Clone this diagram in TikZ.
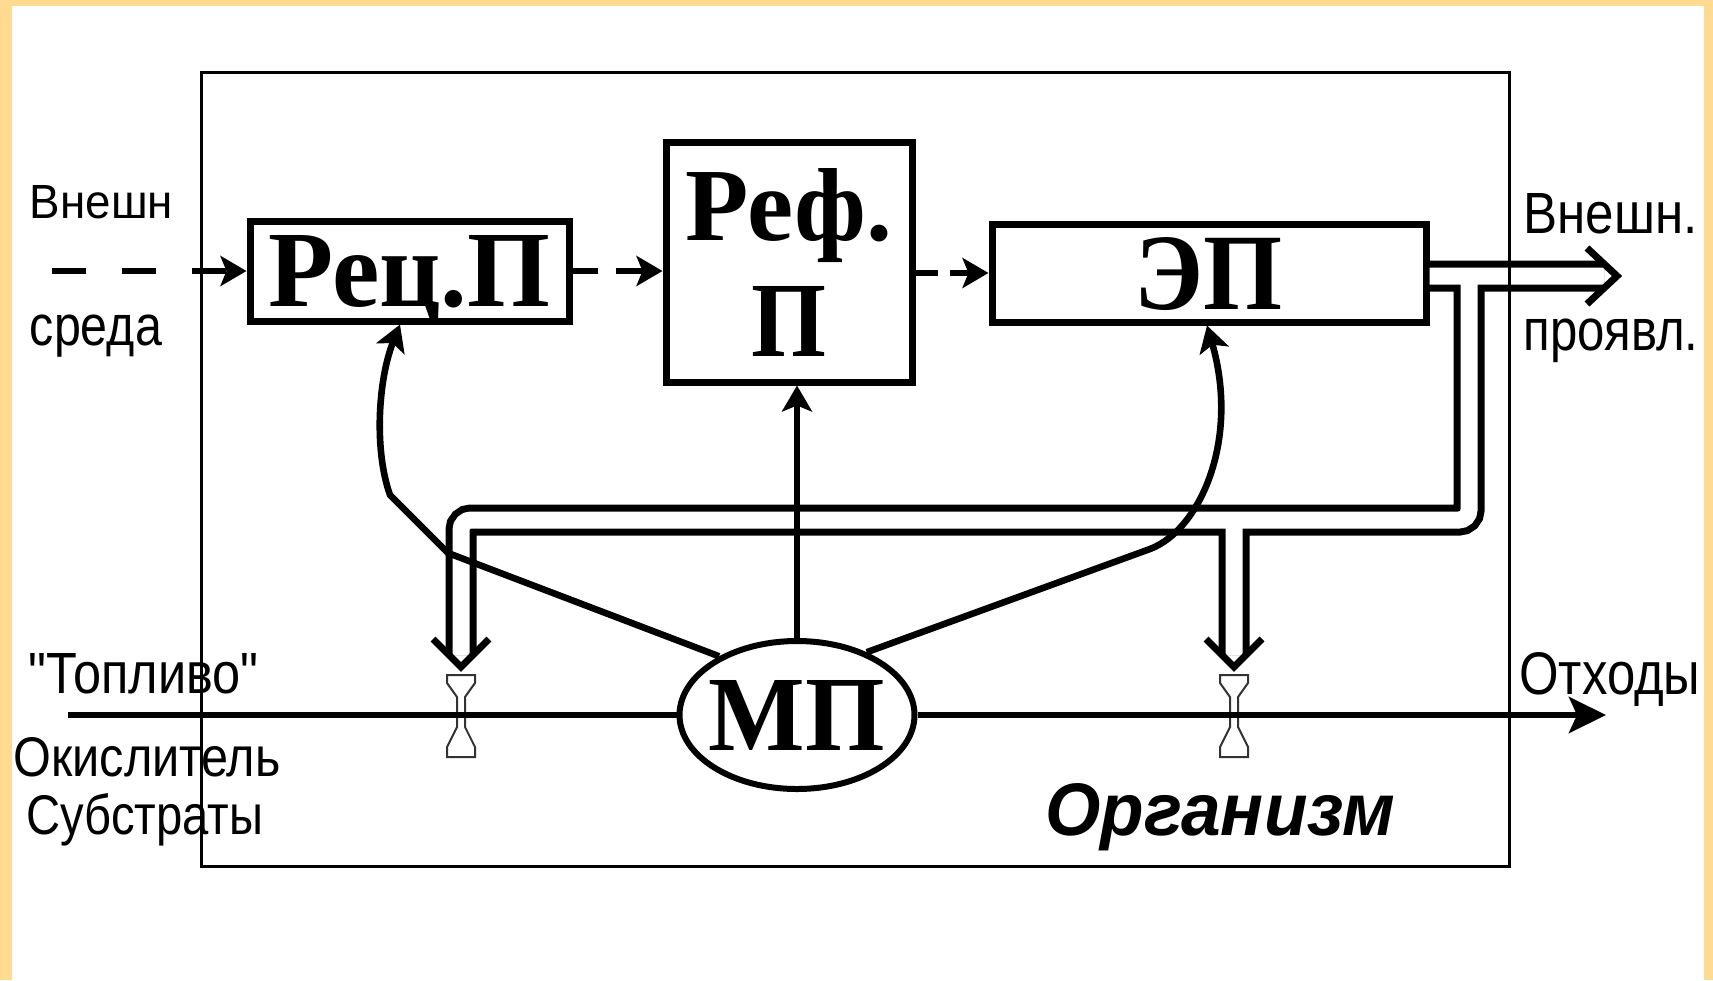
\documentclass[tikz,border=0pt]{standalone}
\usepackage{graphicx}
\usepackage{fontspec}
\setmainfont{Liberation Serif}
\setsansfont{Liberation Sans}
\usetikzlibrary{arrows.meta,shapes.geometric,calc}

\definecolor{rim}{RGB}{255,219,145}
% keep the height of a box, drop its depth
\newcommand{\nd}[1]{\raisebox{0pt}[\height][0pt]{#1}}

\begin{document}
\begin{tikzpicture}[x=0.5pt,y=-0.5pt,
  box/.style={draw, rectangle, line width=3.5pt, inner sep=0pt, font=\bfseries},
  lbl/.style={anchor=base west, inner sep=0pt, font=\sffamily},
  link/.style={line width=3.3pt, -{Stealth[length=13pt,width=15pt,inset=3pt]}},
  dlink/.style={link, line width=3pt},
  flow/.style={line width=3pt},
  pipeout/.style={line width=15.5pt, rounded corners=5pt},
  pipein/.style={white, line width=8.5pt, rounded corners=5pt},
  vhead/.style={line width=3.5pt, line join=miter},
  valve/.style={line width=1pt, black!80}]

% page: yellow rim and white sheet
\useasboundingbox (0,0) rectangle (1713,980);
\fill[rim] (0,0) rectangle (1713,980);
\fill[white] (12,6) rectangle (1704,980);

% blocks
\node[box, minimum width=159.5pt, minimum height=50pt] (rec) at (409.5,271)
  {\nd{\resizebox{141pt}{35.5pt}{Рец.П}}};
\node[box, minimum width=123pt, minimum height=120pt, align=center,
  font={\bfseries\fontsize{20pt}{58pt}\selectfont}] (ref) at (789,262)
  {\nd{\resizebox{103.5pt}{36pt}{Реф.}}\\\nd{\resizebox{37.5pt}{35pt}{П}}};
\node[box, minimum width=217pt, minimum height=49pt] (ep) at (1209,273)
  {\nd{\resizebox{74pt}{36pt}{ЭП}}};
\node[draw, ellipse, line width=3pt, inner sep=0pt, minimum width=117.5pt,
  minimum height=74pt, font=\bfseries] (mp) at (797,715)
  {\makebox[0pt]{\nd{\resizebox{88pt}{35pt}{МП}}}};

% side labels
\node[lbl] (envA) at (29.5,218.5) {\resizebox{71.5pt}{16.5pt}{Внешн}};
\node[lbl] (envB) at (29.5,345) {\resizebox{66pt}{15.3pt}{среда}};
\node[lbl] (outA) at (1523,233) {\resizebox{87pt}{20pt}{Внешн.}};
\node[lbl] (outB) at (1523,350) {\resizebox{87.5pt}{15.8pt}{проявл.}};
\node[lbl] (fuel) at (28,693) {\resizebox{115pt}{20pt}{\textquotedbl Топливо\textquotedbl}};
\node[lbl] (oxid) at (13,776) {\resizebox{133.5pt}{19.5pt}{Окислитель}};
\node[lbl] (subs) at (26,834) {\resizebox{118.5pt}{20.5pt}{Субстраты}};
\node[lbl] (waste) at (1519,694) {\resizebox{90.5pt}{21pt}{Отходы}};
\node[lbl, font=\sffamily\bfseries\itshape] (org) at (1045,835)
  {\resizebox{175pt}{26pt}{Организм}};

% double-line pipes from the effector
\coordinate (pA) at (ep.east |- 0,276);
\coordinate (pB) at (1604,276);
\coordinate (pTip) at (1617,276);
\coordinate (pC) at (1469,276);
\coordinate (pD) at (1469,520);
\coordinate (pE) at (461,520);
\coordinate (pF) at (461,655);
\coordinate (pFt) at (461,667);
\coordinate (pG) at (1234,520);
\coordinate (pH) at (1234,655);
\coordinate (pHt) at (1234,667);
\foreach \s in {pipeout,pipein}
  \draw[\s] (pA) -- (pB) (pC) -- (pD) -- (pE) -- (pF) (pG) -- (pH);
\draw[vhead] ($(pTip)+(-30,-28)$) -- (pTip) -- ($(pTip)+(-30,28)$);
\draw[vhead] ($(pFt)+(-28,-28)$) -- (pFt) -- ($(pFt)+(28,-28)$);
\draw[vhead] ($(pHt)+(-28,-28)$) -- (pHt) -- ($(pHt)+(28,-28)$);

% organism outline
\draw[line width=1.5pt] (201,72) rectangle (1509,866);

% valves on the substance flow
\foreach \vx in {461,1234}
  \draw[valve] (\vx-14,675) -- (\vx+14,675) -- (\vx+14,683) -- (\vx+4,697)
    -- (\vx+4,727) -- (\vx+14,747) -- (\vx+14,757) -- (\vx-14,757)
    -- (\vx-14,747) -- (\vx-4,727) -- (\vx-4,697) -- (\vx-14,683) -- cycle;

% substance flow through the metabolic process
\coordinate (fIn) at (68,715);
\coordinate (fOut) at (1606,715);
\draw[flow] (fIn) -- (mp.west);
\draw[flow, -{Stealth[length=18.5pt,width=18pt,inset=4pt]}] (mp.east) -- (fOut);

% information chain
\coordinate (envIn) at (52,271);
\draw[dlink, dash pattern=on 17pt off 18pt] (envIn) -- (rec.west);
\draw[dlink, dash pattern=on 12.5pt off 9pt on 60pt off 1pt] (rec.east) -- (rec.east -| ref.west);
\draw[dlink, dash pattern=on 11pt off 6pt on 60pt off 1pt] (ep.west -| ref.east) -- (ep.west);

% supply from the metabolic process
\draw[link] (mp.143) -- (448,553) -- (390,495) .. controls (374,450) and (378,380) .. ([xshift=-4.75pt]rec.south);
\draw[link] (mp.42) -- (1150,549) .. controls (1200,530) and (1240,440) .. ([xshift=-1pt]ep.south);
\draw[link] (mp.north) -- (mp.north |- ref.south);
\end{tikzpicture}
\end{document}
